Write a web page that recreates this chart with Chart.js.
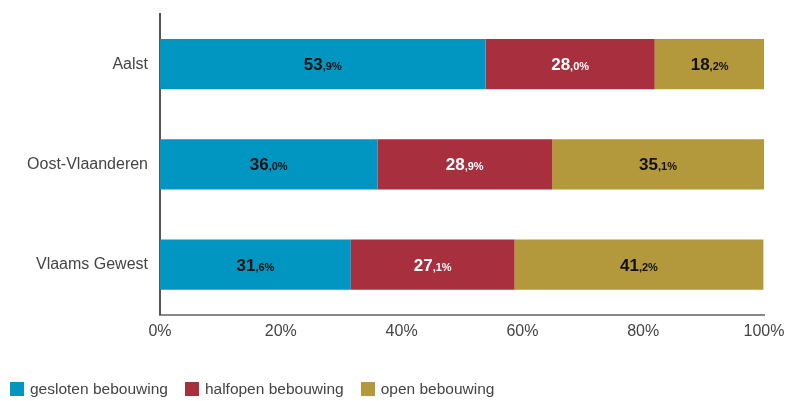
<!DOCTYPE html>
<html>
<head>
<meta charset="utf-8">
<script src="https://cdn.jsdelivr.net/npm/chart.js@4"></script>
<style>
  html, body { margin: 0; padding: 0; background: #fff; }
  #wrap { position: relative; width: 787px; height: 401px; }
  #legend { position: absolute; left: 10px; top: 380px; display: flex;
            font: 15.5px "Liberation Sans", Arial, sans-serif; color: #444; }
  #legend span.item { display: flex; align-items: center; margin-right: 17px; }
  #legend span.box { width: 14px; height: 14px; margin-right: 6px; display: inline-block; }
</style>
</head>
<body>
<div id="wrap">
  <canvas id="myChart" width="787" height="401"></canvas>
  <div id="legend"></div>
</div>
<script>
const regions = ['Aalst', 'Oost-Vlaanderen', 'Vlaams Gewest'];
const gesloten = [53.9, 36.0, 31.6];
const halfopen = [28.0, 28.9, 27.1];
const open = [18.2, 35.1, 41.2];
const seriesNames = ['gesloten bebouwing', 'halfopen bebouwing', 'open bebouwing'];
const xTicks = [0, 20, 40, 60, 80, 100];

const colors = ['#0096c1', '#a82f3e', '#b3993c'];
const labelColors = ['#111', '#fff', '#111'];
const FONT = '"Liberation Sans", Arial, sans-serif';

// draws "53,9%" with a big integer part and a small decimal part
const valueLabels = {
    id: 'valueLabels',
    afterDatasetsDraw(chart) {
        const ctx = chart.ctx;
        chart.data.datasets.forEach((ds, i) => {
            const meta = chart.getDatasetMeta(i);
            meta.data.forEach((bar, j) => {
                const parts = ds.data[j].toFixed(1).split('.');
                const big = parts[0];
                const small = ',' + parts[1] + '%';
                ctx.save();
                ctx.font = 'bold 17px ' + FONT;
                const w1 = ctx.measureText(big).width;
                ctx.font = 'bold 11px ' + FONT;
                const w2 = ctx.measureText(small).width;
                const cx = (bar.x + bar.base) / 2;
                let x = cx - (w1 + w2) / 2;
                const y = bar.y + 6;
                ctx.fillStyle = labelColors[i];
                ctx.textBaseline = 'alphabetic';
                ctx.textAlign = 'left';
                ctx.font = 'bold 17px ' + FONT;
                ctx.fillText(big, x, y);
                ctx.font = 'bold 11px ' + FONT;
                ctx.fillText(small, x + w1, y);
                ctx.restore();
            });
        });
    }
};

const ctx = document.getElementById('myChart').getContext('2d');
const myChart = new Chart(ctx, {
    type: 'bar',
    data: {
        labels: regions,
        datasets: [gesloten, halfopen, open].map((d, i) => ({
            label: seriesNames[i],
            data: d,
            backgroundColor: colors[i],
            borderWidth: 0,
            barPercentage: 0.5,
            categoryPercentage: 1
        }))
    },
    options: {
        indexAxis: 'y',
        responsive: false,
        animation: false,
        layout: { padding: { top: 14, right: 23, bottom: 53, left: 0 } },
        scales: {
            x: {
                stacked: true,
                min: 0,
                max: 100,
                afterBuildTicks: axis => { axis.ticks = xTicks.map(v => ({ value: v })); },
                afterFit: axis => { axis.paddingLeft = 0; axis.paddingRight = 0; },
                grid: { display: false, drawTicks: false },
                border: { display: true, color: '#888', width: 2 },
                ticks: {
                    callback: v => v + '%',
                    color: '#444',
                    font: { family: FONT, size: 16 },
                    padding: 7,
                    maxRotation: 0
                }
            },
            y: {
                stacked: true,
                afterFit: axis => {
                    axis.width = 160;
                    axis.paddingTop = 0;
                    axis.paddingBottom = 0;
                },
                grid: { display: false, drawTicks: false },
                border: { display: true, color: '#555', width: 2 },
                ticks: {
                    color: '#444',
                    font: { family: FONT, size: 16 },
                    padding: 12
                }
            }
        },
        plugins: {
            tooltip: { enabled: false },
            legend: { display: false }
        }
    },
    plugins: [valueLabels]
});

// legend below the chart, built from the same series names and colours
const legendEl = document.getElementById('legend');
seriesNames.forEach((name, i) => {
    const item = document.createElement('span');
    item.className = 'item';
    const box = document.createElement('span');
    box.className = 'box';
    box.style.background = colors[i];
    item.appendChild(box);
    item.appendChild(document.createTextNode(name));
    legendEl.appendChild(item);
});
</script>
</body>
</html>
